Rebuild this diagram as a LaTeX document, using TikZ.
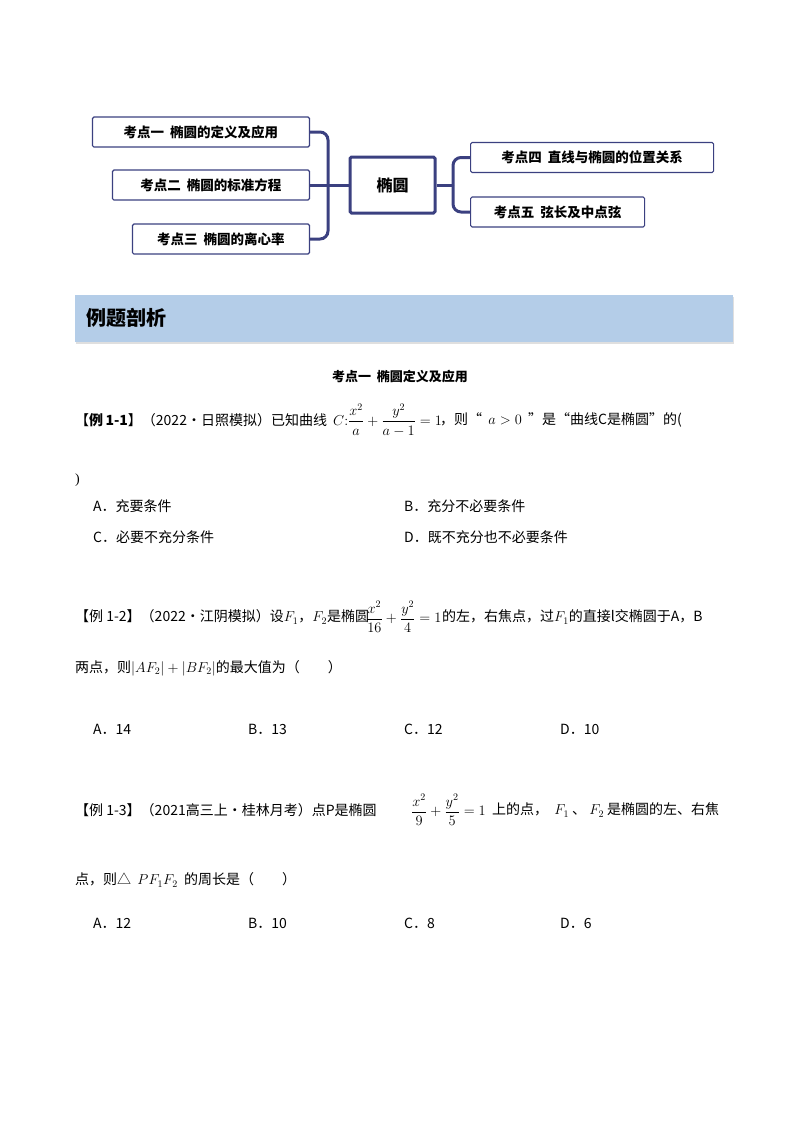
\documentclass[tikz,border=0pt]{standalone}
\usepackage{amsmath}
\usepackage{fontspec}
\setmainfont{Liberation Serif}
\newfontfamily\cjk{Noto Sans CJK SC}
\usetikzlibrary{shadows}
\definecolor{navy}{HTML}{3B4080}
\definecolor{banner}{HTML}{B4CDE8}
\tikzset{
  topic/.style={draw=navy,line width=1.2pt,rounded corners=1.5pt,minimum height=30pt,font=\cjk\fontsize{13.5}{15}\selectfont\bfseries,inner xsep=6pt},
  link/.style={navy,line width=3pt},
  txt/.style={anchor=west,inner sep=0pt,font=\fontsize{14}{17}\selectfont},
}
\begin{document}
\begin{tikzpicture}[x=1pt,y=-1pt]
\useasboundingbox (0,0) rectangle (800,1132);
% mind map
\node[topic,draw=navy,line width=3pt,minimum width=85pt,minimum height=56pt,font=\cjk\fontsize{16}{18}\selectfont\bfseries] (c) at (392.5,185) {椭圆};
\node[topic,minimum width=217pt,anchor=east] (t1) at (310,132) {考点一\ \ 椭圆的定义及应用};
\node[topic,minimum width=197pt,anchor=east] (t2) at (310,185) {考点二\ \ 椭圆的标准方程};
\node[topic,minimum width=177pt,anchor=east] (t3) at (310,239) {考点三\ \ 椭圆的离心率};
\node[topic,minimum width=243pt,anchor=west] (t4) at (470,157.5) {考点四\ \ 直线与椭圆的位置关系};
\node[topic,minimum width=174pt,anchor=west] (t5) at (470,212) {考点五\ \ 弦长及中点弦};
\coordinate (jl) at (328,185);
\coordinate (jr) at (453,185);
\draw[link] (c.west) -- (jl);
\draw[link,rounded corners=8pt] (jl) -- (328,132) -- (t1.east);
\draw[link] (jl) -- (t2.east);
\draw[link,rounded corners=8pt] (jl) -- (328,239) -- (t3.east);
\draw[link] (c.east) -- (jr);
\draw[link,rounded corners=8pt] (jr) -- (453,157.5) -- (t4.west);
\draw[link,rounded corners=8pt] (jr) -- (453,212) -- (t5.west);
% banner
\node[fill=banner,minimum width=658pt,minimum height=47pt,anchor=north west,drop shadow={opacity=0.25,shadow xshift=1pt,shadow yshift=-1.5pt}] (ban) at (75,295) {};
\node[anchor=west,font=\cjk\fontsize{20}{22}\selectfont\bfseries] (bt) at (83,318) {例题剖析};
% heading
\node[font=\cjk\fontsize{13}{15}\selectfont\bfseries] (h) at (400,377) {考点一\ \ 椭圆定义及应用};
% example 1-1
\node[txt] (e1) at (75,420) {\cjk 【\textbf{例}\,\textbf{1-1}】（2022·日照模拟）已知曲线};
\node[txt] (f1) at (333,420) {$C{:}\dfrac{x^2}{a}+\dfrac{y^2}{a-1}=1$};
\node[txt] (e1b) at (440,420) {\cjk ，则“\ \ $a>0$\ \ ”是“曲线C是椭圆”的(};
\node[txt] (e1c) at (75,480) {)};
\node[txt] (a1) at (93,506) {\cjk A．充要条件};
\node[txt] (b1) at (404,506) {\cjk B．充分不必要条件};
\node[txt] (c1) at (93,537) {\cjk C．必要不充分条件};
\node[txt] (d1) at (404,537) {\cjk D．既不充分也不必要条件};
% example 1-2
\node[txt] (e2) at (75,617) {\cjk 【例 1-2】（2022·江阴模拟）设$F_1$，$F_2$是椭圆};
\node[txt] (f2) at (366,617) {$\dfrac{x^2}{16}+\dfrac{y^2}{4}=1$};
\node[txt] (e2b) at (442,617) {\cjk 的左，右焦点，过$F_1$的直接l交椭圆于A，B};
\node[txt] (e2c) at (75,668) {\cjk 两点，则$|AF_2|+|BF_2|$的最大值为（\qquad）};
\node[txt] (a2) at (93,729) {\cjk A．14};
\node[txt] (b2) at (248,729) {\cjk B．13};
\node[txt] (c2) at (404,729) {\cjk C．12};
\node[txt] (d2) at (560,729) {\cjk D．10};
% example 1-3
\node[txt] (e3) at (75,810) {\cjk 【例 1-3】（2021高三上·桂林月考）点P是椭圆};
\node[txt] (f3) at (411,810) {$\dfrac{x^2}{9}+\dfrac{y^2}{5}=1$};
\node[txt] (e3b) at (492,810) {\cjk 上的点，\ \ $F_1$\ 、\ $F_2$\ 是椭圆的左、右焦};
\node[txt] (e3c) at (75,880) {\cjk 点，则△\ \ $PF_1F_2$\ \ 的周长是（\qquad）};
\node[txt] (a3) at (93,923) {\cjk A．12};
\node[txt] (b3) at (248,923) {\cjk B．10};
\node[txt] (c3) at (404,923) {\cjk C．8};
\node[txt] (d3) at (560,923) {\cjk D．6};
\end{tikzpicture}
\end{document}
